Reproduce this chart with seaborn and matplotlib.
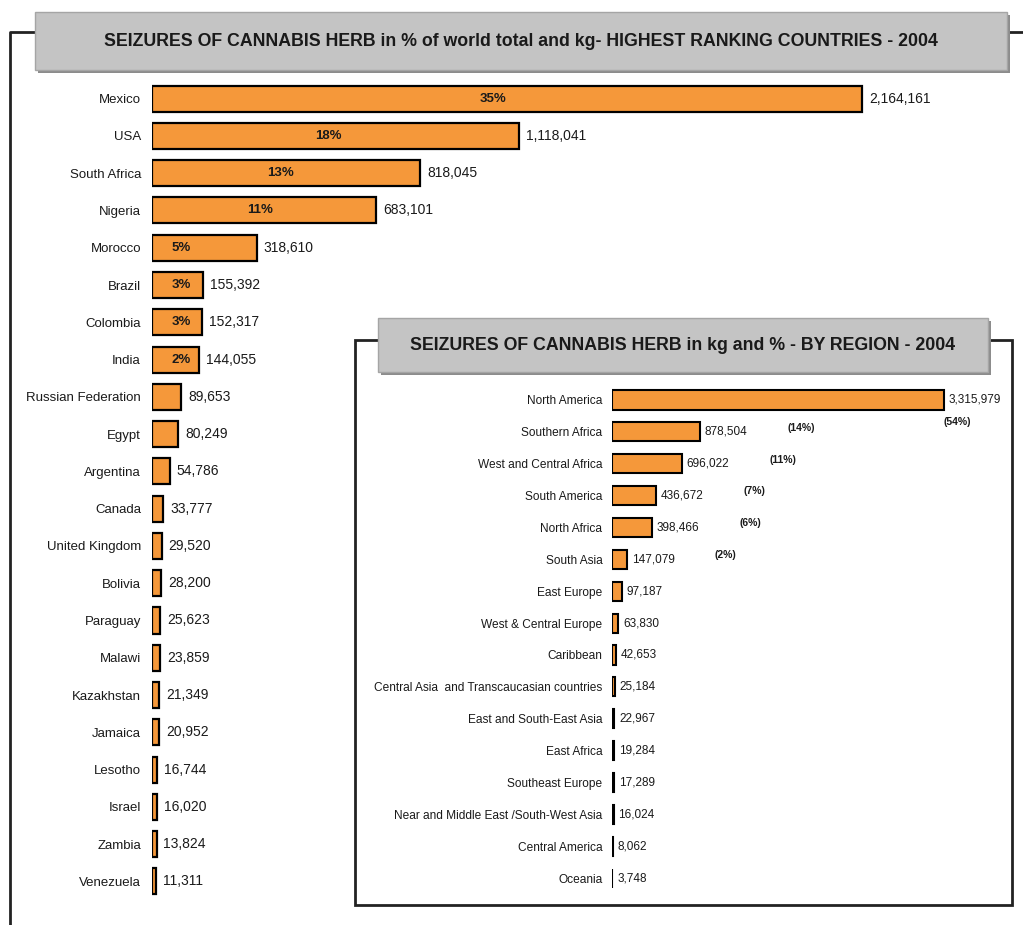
import pandas as pd
import seaborn as sns
import matplotlib.pyplot as plt
from matplotlib.patches import Rectangle
from matplotlib.lines import Line2D

#--------------------------- data ---------------------------#
countries = ['Mexico', 'USA', 'South Africa', 'Nigeria', 'Morocco', 'Brazil', 'Colombia', 'India',
             'Russian Federation', 'Egypt', 'Argentina', 'Canada', 'United Kingdom', 'Bolivia',
             'Paraguay', 'Malawi', 'Kazakhstan', 'Jamaica', 'Lesotho', 'Israel', 'Zambia', 'Venezuela']
country_kg = [2164161, 1118041, 818045, 683101, 318610, 155392, 152317, 144055,
              89653, 80249, 54786, 33777, 29520, 28200,
              25623, 23859, 21349, 20952, 16744, 16020, 13824, 11311]
country_pct = ['35%', '18%', '13%', '11%', '5%', '3%', '3%', '2%',
               '', '', '', '', '', '', '', '', '', '', '', '', '', '']

regions = ['North America', 'Southern Africa', 'West and Central Africa', 'South America',
           'North Africa', 'South Asia', 'East Europe', 'West & Central Europe', 'Caribbean',
           'Central Asia  and Transcaucasian countries', 'East and South-East Asia', 'East Africa',
           'Southeast Europe', 'Near and Middle East /South-West Asia', 'Central America', 'Oceania']
region_kg = [3315979, 878504, 696022, 436672, 398466, 147079, 97187, 63830, 42653,
             25184, 22967, 19284, 17289, 16024, 8062, 3748]
region_pct = ['(54%)', '(14%)', '(11%)', '(7%)', '(6%)', '(2%)',
              '', '', '', '', '', '', '', '', '', '']

title_main = 'SEIZURES OF CANNABIS HERB in % of world total and kg- HIGHEST RANKING COUNTRIES - 2004'
title_inset = 'SEIZURES OF CANNABIS HERB in kg and % - BY REGION - 2004'

#--------------------------- style ---------------------------#
sns.set_style('white')
plt.rcParams['font.family'] = ['Liberation Sans', 'DejaVu Sans']
plt.rcParams['text.color'] = '#1a1a1a'
plt.rcParams['ytick.color'] = '#1a1a1a'
ORANGE = '#f5983a'
W, H = 1023, 925


def box(x0, y0, x1, y1):
    # pixel box (top-left origin) -> figure fraction rect
    return [x0 / W, 1 - y1 / H, (x1 - x0) / W, (y1 - y0) / H]


fig = plt.figure(figsize=(W / 100, H / 100), dpi=100)

#--------------------------- main chart: countries ---------------------------#
df1 = pd.DataFrame({'country': countries, 'kg': country_kg, 'pct': country_pct})
ax = fig.add_axes(box(152, 80, 1002, 900))
sns.barplot(data=df1, x='kg', y='country', color=ORANGE, saturation=1,
            edgecolor='black', linewidth=1.6, width=0.7, ax=ax)
ax.set_xlim(0, 850 / 328.1 * 1e6)
sns.despine(ax=ax, left=True, bottom=True)
ax.set_xticks([])
ax.set_xlabel('')
ax.set_ylabel('')
ax.tick_params(axis='y', length=0, pad=8, labelsize=9.5)

for i, row in df1.iterrows():
    ax.annotate(f'{row.kg:,}', (row.kg, i), xytext=(5, 0), textcoords='offset points',
                va='center', ha='left', fontsize=10)
    if row.pct:
        px = row.kg * 0.48 if row.kg > 400000 else 90000
        ax.text(px, i, row.pct, ha='center', va='center', fontweight='bold', fontsize=9.5)

# outer frame + title box
fig.add_artist(Line2D([10 / W, 10 / W, 1023 / W], [0, 1 - 32 / H, 1 - 32 / H],
                      color='#222222', lw=2, zorder=0.5))
fig.add_artist(Rectangle(box(38, 15, 1010, 73)[:2], 972 / W, 58 / H,
                         facecolor='#8c8c8c', edgecolor='none', zorder=1))
fig.add_artist(Rectangle(box(35, 12, 1007, 70)[:2], 972 / W, 58 / H,
                         facecolor='#c4c4c4', edgecolor='#a5a5a5', zorder=1.1))
fig.text(521 / W, 1 - 41 / H, title_main, ha='center', va='center', fontweight='bold',
         fontsize=12.8, zorder=1.2)

#--------------------------- inset chart: regions ---------------------------#
fig.add_artist(Rectangle(box(355, 340, 1012, 905)[:2], 657 / W, 565 / H,
                         facecolor='white', edgecolor='#222222', lw=2, zorder=2))
fig.add_artist(Rectangle(box(381, 321, 991, 375)[:2], 610 / W, 54 / H,
                         facecolor='#8c8c8c', edgecolor='none', zorder=2.1))
fig.add_artist(Rectangle(box(378, 318, 988, 372)[:2], 610 / W, 54 / H,
                         facecolor='#c4c4c4', edgecolor='#a5a5a5', zorder=2.2))
fig.text(683 / W, 1 - 345 / H, title_inset, ha='center', va='center', fontweight='bold',
         fontsize=12.8, zorder=2.3)

df2 = pd.DataFrame({'region': regions, 'kg': region_kg, 'pct': region_pct})
ax2 = fig.add_axes(box(612, 384, 1000, 894))
ax2.set_zorder(3)
ax2.patch.set_alpha(0)
sns.barplot(data=df2, x='kg', y='region', color=ORANGE, saturation=1,
            edgecolor='black', linewidth=1.5, width=0.6, ax=ax2)
ax2.set_xlim(0, 3.88e6)
sns.despine(ax=ax2, left=True, bottom=True)
ax2.set_xticks([])
ax2.set_xlabel('')
ax2.set_ylabel('')
ax2.tick_params(axis='y', length=0, pad=7, labelsize=8.6)

for i, row in df2.iterrows():
    ax2.annotate(f'{row.kg:,}', (row.kg, i), xytext=(3.5, 0), textcoords='offset points',
                 va='center', ha='left', fontsize=8.5)
    if row.pct:
        if i == 0:
            ax2.annotate(row.pct, (row.kg, i), xytext=(0, -16), textcoords='offset points',
                         va='center', ha='left', fontsize=7.5, fontweight='bold')
        else:
            ax2.annotate(row.pct, (row.kg + 0.88e6, i), xytext=(0, 3), textcoords='offset points',
                         va='center', ha='left', fontsize=7.5, fontweight='bold')

fig.savefig('out.png', dpi=100)
